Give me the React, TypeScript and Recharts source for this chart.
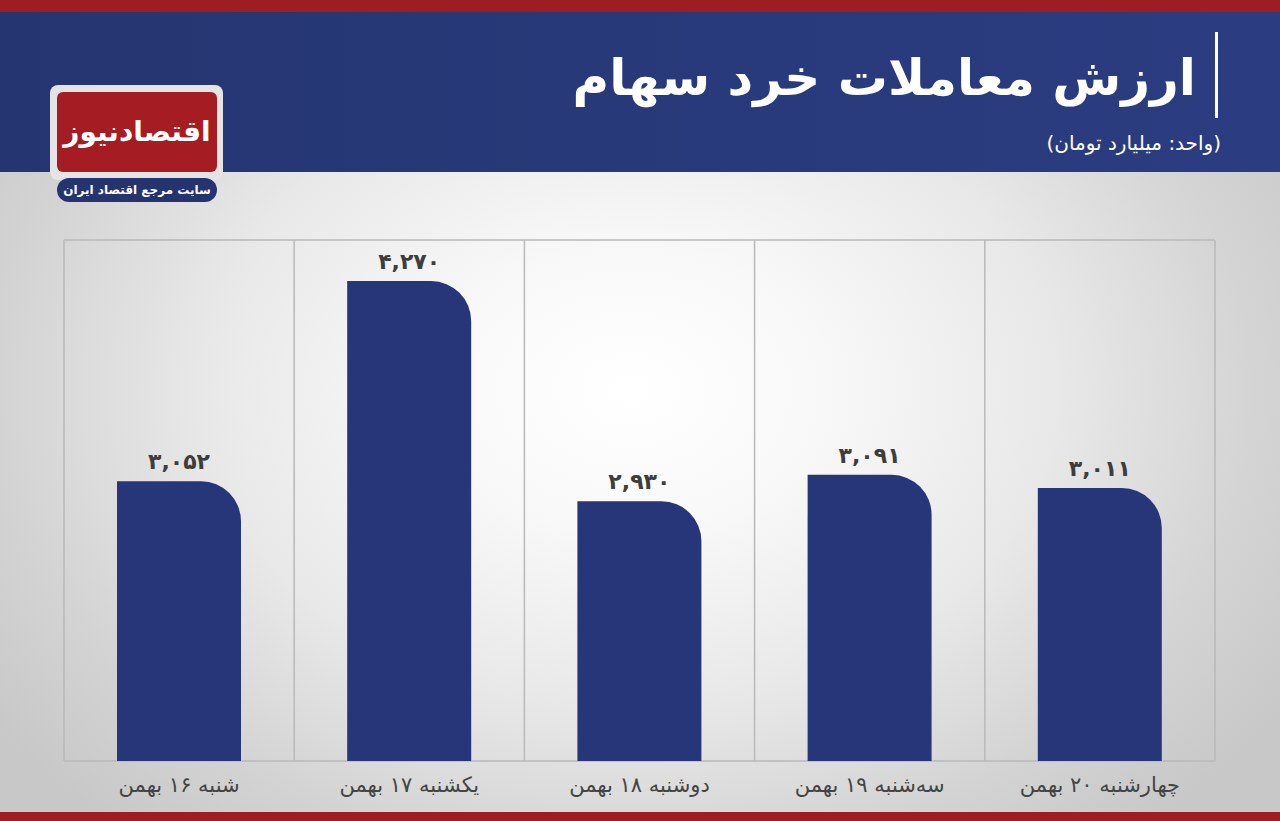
import { BarChart, Bar, XAxis, YAxis, CartesianGrid, LabelList } from "recharts";

const days = [
  "شنبه ۱۶ بهمن",
  "یکشنبه ۱۷ بهمن",
  "دوشنبه ۱۸ بهمن",
  "سه‌شنبه ۱۹ بهمن",
  "چهارشنبه ۲۰ بهمن",
];
const values = [3052, 4270, 2930, 3091, 3011];

const data = days.map((day, i) => ({ day, value: values[i] }));

const FONT = '"DejaVu Sans", "Noto Sans", sans-serif';
const faDigits = "۰۱۲۳۴۵۶۷۸۹";
const toFa = (v: number) =>
  v.toLocaleString("en-US").replace(/\d/g, (d) => faDigits[Number(d)]);

export default function App() {
  return (
    <div
      style={{
        position: "absolute",
        left: 0,
        top: 0,
        width: 1280,
        height: 821,
        overflow: "hidden",
        fontFamily: FONT,
        background:
          "radial-gradient(ellipse 780px 580px at 630px 390px, #ffffff 0%, #f8f8f8 25%, #e8e8e8 55%, #d4d4d4 80%, #c8c8c8 100%)",
      }}
    >
      {/* top red strip + blue header */}
      <div style={{ position: "absolute", left: 0, top: 0, width: 1280, height: 12, background: "#9d1d22" }} />
      <div
        style={{
          position: "absolute",
          left: 0,
          top: 12,
          width: 1280,
          height: 160,
          background: "linear-gradient(90deg, #253571 0%, #283a7b 60%, #2b3d80 100%)",
        }}
      />
      <div style={{ position: "absolute", left: 1215, top: 32, width: 3, height: 86, background: "#ffffff" }} />
      <div
        dir="rtl"
        style={{
          position: "absolute",
          right: 1280 - 1196,
          top: 38,
          color: "#fff",
          fontWeight: 700,
          fontSize: 50,
          lineHeight: "80px",
          whiteSpace: "nowrap",
        }}
      >
        ارزش معاملات خرد سهام
      </div>
      <div
        dir="rtl"
        style={{
          position: "absolute",
          right: 1280 - 1221,
          top: 128,
          color: "#fff",
          fontSize: 20,
          lineHeight: "30px",
          whiteSpace: "nowrap",
        }}
      >
        (واحد: میلیارد تومان)
      </div>

      {/* logo */}
      <div
        style={{
          position: "absolute",
          left: 50,
          top: 85,
          width: 173,
          height: 95,
          background: "#e4e4e4",
          borderRadius: 8,
        }}
      />
      <div
        style={{
          position: "absolute",
          left: 57,
          top: 92,
          width: 160,
          height: 80,
          background: "#a51d23",
          borderRadius: 6,
          color: "#fff",
          fontWeight: 700,
          fontSize: 28,
          lineHeight: "80px",
          textAlign: "center",
          whiteSpace: "nowrap",
        }}
      >
        اقتصادنیوز
      </div>
      <div
        dir="rtl"
        style={{
          position: "absolute",
          left: 57,
          top: 178,
          width: 160,
          height: 24,
          background: "#25346f",
          borderRadius: 12,
          color: "#fff",
          fontWeight: 700,
          fontSize: 12,
          lineHeight: "24px",
          textAlign: "center",
        }}
      >
        سایت مرجع اقتصاد ایران
      </div>

      {/* bottom red strip */}
      <div style={{ position: "absolute", left: 0, top: 812, width: 1280, height: 9, background: "#9d1d22" }} />

      <div style={{ position: "absolute", left: 0, top: 172 }}>
        <BarChart
          width={1280}
          height={649}
          data={data}
          margin={{ top: 68, right: 65, left: 64, bottom: 0 }}
          barCategoryGap={53}
        >
          <CartesianGrid
            stroke="#b9b9b9"
            strokeWidth={1.5}
            fill="none"
            horizontalCoordinatesGenerator={({ offset }: any) => [
              offset.top,
              offset.top + offset.height,
            ]}
            verticalCoordinatesGenerator={({ offset }: any) =>
              Array.from({ length: days.length + 1 }, (_, i) => offset.left + (i * offset.width) / days.length)
            }
          />
          <XAxis
            dataKey="day"
            axisLine={false}
            tickLine={false}
            height={60}
            interval={0}
            tick={{ fill: "#444", fontSize: 21, fontFamily: FONT }}
            dy={8}
          />
          <YAxis hide domain={[1350, 4520]} />
          <Bar dataKey="value" fill="#273679" radius={[0, 40, 0, 0]} isAnimationActive={false}>
            <LabelList
              dataKey="value"
              position="top"
              offset={12}
              formatter={(v: any) => toFa(Number(v))}
              style={{ fill: "#3d3d3d", fontSize: 22, fontWeight: 700, fontFamily: FONT }}
            />
          </Bar>
        </BarChart>
      </div>
    </div>
  );
}
